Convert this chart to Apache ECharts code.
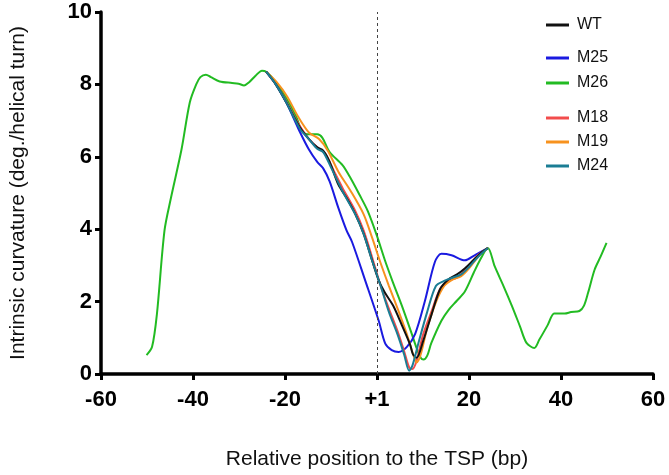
<!DOCTYPE html>
<html>
<head>
<meta charset="utf-8">
<script src="https://cdn.jsdelivr.net/npm/echarts@6/dist/echarts.min.js"></script>
<style>html,body{margin:0;padding:0;background:#fff;}#c{width:669px;height:475px;}</style>
</head>
<body>
<div id="c"></div>
<script>
var xTicks = [-60, -40, -20, 0, 20, 40, 60];
var xTickLabels = ['-60', '-40', '-20', '+1', '20', '40', '60'];
var seriesNames = ['WT', 'M25', 'M26', 'M18', 'M19', 'M24'];

var m26X = [-50.1,-48.9,-47.85,-46.2,-44.8,-42.5,-40.7,-39.3,-38.4,-37.2,-36.1,-34.2,-31.5,-30.1,-28.9,-27.8,-26.4,-25,-24.1,-22.2,-19.9,-17.6,-16.3,-14.8,-13,-11.9,-10.3,-7.5,-5.7,-3.8,-2,-0.1,1.7,3.5,5.4,7.56,8.6,9.5,10.1,10.9,11.8,14,15.5,17.4,19.1,21,22.4,24.1,25.6,27.5,29.3,31.1,32.5,34.2,35.3,37.1,38.5,39.4,40.8,42.2,44,45,45.9,47.3,48.6,49.9];
var m26Y = [0.52,0.75,1.65,3.96,4.86,6.2,7.5,8.0,8.2,8.27,8.2,8.08,8.04,8.02,7.97,8.06,8.24,8.38,8.35,8.1,7.66,7.12,6.71,6.62,6.62,6.53,6.13,5.77,5.4,4.95,4.5,3.85,3.15,2.52,1.89,1.11,0.72,0.45,0.4,0.5,0.85,1.47,1.76,2.03,2.28,2.79,3.15,3.48,2.97,2.43,1.89,1.31,0.86,0.72,0.95,1.35,1.67,1.67,1.67,1.71,1.74,1.89,2.25,2.88,3.24,3.62];

var wtX = [-24.1,-22,-19.7,-16.7,-14.8,-13,-11.7,-10.3,-8.4,-6.6,-4.7,-2.9,-1.1,0.3,1.7,3.5,5.4,7.2,7.8,8.6,10,11.8,13.7,15.5,17.4,19.2,21,22.9,24.1];
var wtY = [8.35,8.0,7.5,6.8,6.49,6.26,6.17,5.86,5.23,4.86,4.41,3.87,3.15,2.61,2.25,1.89,1.35,0.81,0.55,0.45,0.9,1.62,2.34,2.61,2.75,2.93,3.15,3.38,3.48];

var m25X = [-24.1,-22,-19.7,-16.7,-14.8,-13,-11.7,-10.3,-8.4,-6.6,-5.4,-2.5,0.37,1.8,3.2,4.7,6.5,8.3,10.4,12.6,14,16.2,19.1,21.2,24.1];
var m25Y = [8.35,8.0,7.5,6.67,6.2,5.86,5.68,5.32,4.59,3.96,3.64,2.56,1.47,0.84,0.66,0.61,0.75,1.11,2.01,3.1,3.32,3.28,3.14,3.28,3.48];

var m18X = [-24.1,-21.8,-19.5,-17.2,-14.8,-12.6,-11.2,-9.3,-7.5,-4.7,-2.9,-1.1,0.8,2.6,4.5,5.9,7,7.7,8.6,10,11.8,13.7,15.5,17.4,19.2,22,24.1];
var m18Y = [8.35,7.97,7.48,6.94,6.49,6.22,6.08,5.59,5.14,4.5,3.96,3.24,2.43,1.8,1.17,0.63,0.18,0.14,0.36,1.08,1.71,2.34,2.57,2.66,2.88,3.29,3.48];

var m19X = [-24.1,-21.8,-19.5,-17.2,-14.8,-12.6,-10.7,-8.4,-5.7,-2.9,-1.1,0.8,2.6,4.5,6.3,8.1,8.6,9.5,10.9,12.8,14.6,16.4,18.3,20.1,22,24.1];
var m19Y = [8.35,8.06,7.66,7.12,6.67,6.49,6.17,5.59,5.05,4.41,3.78,3.06,2.43,1.8,1.17,0.45,0.32,0.54,1.26,1.98,2.43,2.61,2.7,2.93,3.24,3.48];

var m24X = [-24.1,-22,-19.7,-16.7,-14.8,-13,-11.7,-9.9,-7.5,-4.7,-2.9,-1.1,0.8,2.6,4.5,5.9,7,7.7,9.1,10.9,12.8,14.6,16.4,18.3,20.1,22,24.1];
var m24Y = [8.35,8.0,7.5,6.76,6.49,6.22,6.13,5.68,5.05,4.41,3.87,3.15,2.43,1.71,1.08,0.54,0.09,0.23,0.9,1.71,2.43,2.57,2.66,2.75,2.97,3.24,3.48];

function pairs(xs, ys) { return xs.map(function (x, i) { return [x, ys[i]]; }); }

var colors = { WT: '#111111', M25: '#1a1ae0', M26: '#22bb22', M18: '#f24c4c', M19: '#f7921e', M24: '#1a7d94' };
var dataMap = {
  WT: pairs(wtX, wtY), M25: pairs(m25X, m25Y), M26: pairs(m26X, m26Y),
  M18: pairs(m18X, m18Y), M19: pairs(m19X, m19Y), M24: pairs(m24X, m24Y)
};
var drawOrder = ['M26', 'M25', 'M18', 'M19', 'WT', 'M24'];

var series = drawOrder.map(function (n, i) {
  var s = {
    name: n, type: 'line', data: dataMap[n], smooth: 0.3, showSymbol: false, symbol: 'none',
    lineStyle: { color: colors[n], width: 2 }, itemStyle: { color: colors[n] }, z: 3 + i
  };
  if (n === 'M26') {
    s.markLine = {
      silent: true, symbol: 'none', label: { show: false },
      lineStyle: { color: '#444', type: [3, 3], width: 1 },
      data: [[{ coord: [0, 0] }, { coord: [0, 10] }]]
    };
  }
  return s;
});

var legendBase = {
  orient: 'vertical', left: 541, icon: 'rect', itemWidth: 23, itemHeight: 3,
  textStyle: { fontFamily: 'Liberation Sans, Arial', fontSize: 16, color: '#111', padding: [0, 0, 0, 3] },
  selectedMode: false
};
function legend(names, top, gap) {
  return Object.assign({}, legendBase, { top: top, itemGap: gap, data: names.map(function (n) { return { name: n, itemStyle: { color: colors[n] } }; }) });
}

var chart = echarts.init(document.getElementById('c'), null, { renderer: 'canvas' });
chart.setOption({
  animation: false,
  backgroundColor: '#fff',
  grid: { left: 97, right: 16, top: 12, bottom: 94, containLabel: false },
  legend: [
    legend([seriesNames[0]], 12, 9),
    legend([seriesNames[1], seriesNames[2]], 45, 9),
    legend([seriesNames[3], seriesNames[4], seriesNames[5]], 105, 8)
  ],
  xAxis: {
    type: 'value', min: -60, max: 60, interval: 20,
    name: 'Relative position to the TSP (bp)', nameLocation: 'middle', nameGap: 75,
    nameTextStyle: { fontFamily: 'Liberation Sans, Arial', fontSize: 21, color: '#111' },
    axisLine: { onZero: false, lineStyle: { color: '#000', width: 3.5 } },
    axisTick: { show: true, length: 6, lineStyle: { color: '#000', width: 3 } },
    axisLabel: {
      fontFamily: 'Liberation Sans, Arial', fontWeight: 'bold', fontSize: 22, color: '#000', margin: 15,
      formatter: function (v) { var i = xTicks.indexOf(v); return i >= 0 ? xTickLabels[i] : ''; }
    },
    splitLine: { show: false }
  },
  yAxis: {
    type: 'value', min: 0, max: 10, interval: 2,
    name: 'Intrinsic curvature (deg./helical turn)', nameLocation: 'middle', nameGap: 72,
    nameTextStyle: { fontFamily: 'Liberation Sans, Arial', fontSize: 21, color: '#111' },
    axisLine: { show: true, onZero: false, lineStyle: { color: '#000', width: 3.5 } },
    axisTick: { show: true, length: 6, lineStyle: { color: '#000', width: 3 } },
    axisLabel: { fontFamily: 'Liberation Sans, Arial', fontWeight: 'bold', fontSize: 22, color: '#000', margin: 9 },
    splitLine: { show: false }
  },
  series: series
});
</script>
</body>
</html>
